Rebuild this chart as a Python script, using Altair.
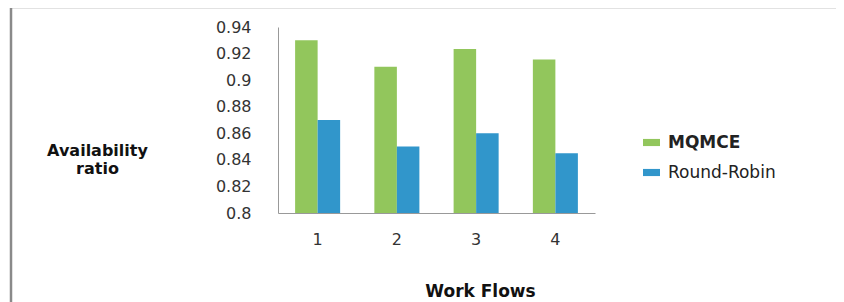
import altair as alt
import pandas as pd

workflows = ["1", "2", "3", "4"]
series = ["MQMCE", "Round-Robin"]
mqmce = [0.930, 0.910, 0.9235, 0.9155]
round_robin = [0.870, 0.850, 0.860, 0.845]
y_ticks = [0.8, 0.82, 0.84, 0.86, 0.88, 0.9, 0.92, 0.94]
colors = ["#92C65C", "#3196CB"]

rows = []
for i, w in enumerate(workflows):
    rows.append({"wf": w, "series": series[0], "value": mqmce[i]})
    rows.append({"wf": w, "series": series[1], "value": round_robin[i]})
df = pd.DataFrame(rows)

FONT = "DejaVu Sans"

bars = alt.Chart(df).mark_bar().encode(
    x=alt.X("wf:N", sort=workflows,
            scale=alt.Scale(paddingInner=0, paddingOuter=0),
            axis=alt.Axis(title="Work Flows", labelAngle=0, ticks=False,
                          labelPadding=18, labelFontSize=16, labelColor="#333",
                          titleFontSize=17, titleFontWeight="bold", titleColor="#111",
                          titleX=202, titleAlign="center",
                          titleY=78, titleBaseline="middle",
                          domainColor="#999", grid=False)),
    xOffset=alt.XOffset("series:N", sort=series,
                        scale=alt.Scale(paddingInner=0, paddingOuter=0.76)),
    y=alt.Y("value:Q",
            scale=alt.Scale(domain=[0.8, 0.94], zero=False, nice=False),
            axis=alt.Axis(values=y_ticks, format=".2~f", ticks=False, grid=False,
                          labelPadding=27, labelFontSize=16, labelColor="#333",
                          domainColor="#999",
                          title=["Availability", "ratio"], titleAngle=0,
                          titleAlign="center", titleBaseline="middle",
                          titleX=-181, titleY=123, titleFontSize=16,
                          titleFontWeight="bold", titleColor="#111")),
    y2=alt.datum(0.8),
    color=alt.Color("series:N", sort=series,
                    scale=alt.Scale(domain=series, range=colors),
                    legend=alt.Legend(title=None, orient="none", legendX=365, legendY=107,
                                      symbolType="M-1,-0.42L1,-0.42L1,0.42L-1,0.42Z",
                                      symbolSize=289, symbolStrokeWidth=0,
                                      labelFontSize=17, labelColor="#222",
                                      labelFontWeight={"expr": "datum.label == 'MQMCE' ? 'bold' : 'normal'"},
                                      labelOffset=8, rowPadding=12)),
)

border = alt.Chart(pd.DataFrame({"a": [0]})).mark_rect(
    fill=None, stroke="#8a8a8a", strokeWidth=2.5, clip=False
).encode(
    x=alt.value(-267), x2=alt.value(570),
    y=alt.value(-20), y2=alt.value(300),
)

chart = alt.layer(border, bars).properties(
    width=317, height=186,
    padding={"left": 270, "top": 19, "right": 241, "bottom": 89},
    autosize=alt.AutoSizeParams(type="none"),
).configure(font=FONT).configure_view(strokeWidth=0, stroke="transparent")

chart.save("out.html", embed_options={"renderer": "svg", "actions": False})
